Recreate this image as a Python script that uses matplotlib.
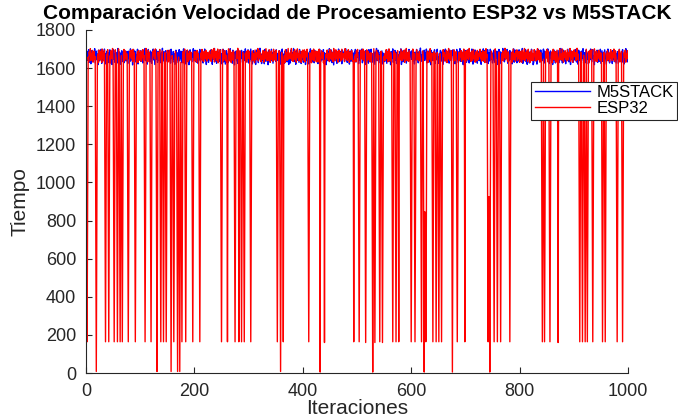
import numpy as np
import matplotlib
matplotlib.use("Agg")
import matplotlib.pyplot as plt

plt.rcParams.update({
    "font.family": ["Liberation Sans", "DejaVu Sans"],
    "axes.edgecolor": "#262626",
    "xtick.color": "#262626",
    "ytick.color": "#262626",
})

# Datos: tiempos por iteración
m5stack = [
    1662,1688,1641,1675,1697,1630,1659,1684,1623,1670,1692,1648,1636,1681,1665,1702,1627,1656,1689,1644,1673,1618,1694,1660,1638,
    1679,1651,1699,1625,1668,1686,1642,1657,1700,1633,1677,1621,1664,1690,1647,1683,1629,1671,1696,1653,1639,1687,1619,1666,1698,
    1645,1674,1631,1693,1658,1680,1626,1669,1703,1640,1655,1685,1620,1676,1649,1691,1634,1663,1682,1628,1695,1652,1672,1637,1687,
    1667,1624,1689,1650,1678,1635,1701,1661,1643,1684,1617,1673,1696,1646,1658,1688,1632,1670,1654,1699,1622,1681,1641,1665,1692,
    1636,1676,1657,1694,1627,1668,1685,1649,1703,1639,1662,1680,1621,1674,1698,1644,1659,1633,1690,1666,1625,1683,1652,1700,1643,
    1684,1619,1661,1697,1647,1672,1630,1688,1656,1641,1695,1664,1628,1679,1651,1704,1637,1669,1686,1623,1660,1691,1645,1675,1634,
    1671,1693,1640,1658,1682,1626,1699,1653,1667,1631,1687,1648,1676,1620,1662,1694,1642,1681,1655,1629,1673,1697,1638,1664,1689,
    1650,1628,1685,1666,1701,1644,1659,1677,1622,1692,1635,1670,1654,1688,1618,1663,1696,1646,1680,1632,1674,1657,1702,1639,1668,
    1694,1655,1633,1678,1660,1687,1624,1671,1649,1698,1637,1665,1683,1643,1690,1627,1675,1652,1700,1641,1662,1619,1684,1658,1677,
    1630,1681,1663,1642,1695,1654,1673,1620,1689,1647,1667,1703,1634,1658,1686,1625,1670,1692,1645,1679,1636,1661,1697,1651,1623,
    1676,1645,1699,1632,1665,1684,1621,1657,1692,1640,1673,1628,1688,1651,1669,1702,1635,1680,1659,1626,1694,1647,1664,1617,1685,
    1653,1690,1638,1672,1625,1697,1661,1644,1682,1630,1668,1693,1649,1675,1620,1687,1656,1639,1701,1663,1633,1679,1648,1696,1627,
    1689,1634,1666,1700,1643,1677,1622,1658,1691,1637,1683,1654,1619,1671,1695,1646,1662,1629,1686,1650,1704,1641,1674,1624,1667,
    1642,1681,1657,1623,1698,1660,1636,1685,1647,1670,1618,1693,1655,1678,1631,1664,1699,1639,1682,1626,1659,1688,1644,1672,1635,
    1696,1650,1677,1640,1664,1629,1691,1668,1621,1683,1652,1700,1638,1674,1657,1625,1687,1645,1669,1697,1633,1661,1680,1619,1654,
    1663,1627,1694,1656,1681,1643,1672,1703,1634,1649,1688,1620,1666,1692,1641,1679,1653,1630,1698,1658,1685,1624,1671,1647,1690,
    1631,1673,1648,1686,1619,1662,1695,1639,1676,1655,1622,1684,1667,1701,1645,1660,1632,1689,1651,1674,1628,1693,1642,1665,1682,
    1678,1658,1624,1690,1646,1699,1660,1635,1670,1687,1643,1656,1697,1626,1681,1649,1675,1618,1664,1692,1639,1684,1653,1702,1637,
    1648,1696,1666,1629,1684,1651,1617,1677,1693,1640,1663,1682,1625,1671,1655,1700,1634,1668,1688,1644,1659,1623,1695,1661,1679,
    1685,1637,1660,1702,1652,1674,1630,1691,1647,1665,1621,1689,1658,1636,1696,1662,1677,1643,1620,1683,1669,1698,1632,1656,1673,
    1657,1682,1623,1669,1694,1641,1678,1650,1700,1628,1663,1686,1645,1672,1619,1691,1654,1638,1680,1666,1626,1697,1648,1675,1633,
    1699,1644,1676,1631,1661,1688,1652,1620,1683,1667,1703,1639,1656,1694,1627,1671,1646,1685,1635,1660,1690,1622,1679,1651,1665,
    1634,1668,1691,1655,1625,1680,1643,1697,1662,1637,1674,1618,1687,1649,1666,1701,1630,1677,1658,1693,1642,1671,1624,1684,1653,
    1672,1629,1655,1686,1647,1701,1619,1664,1690,1633,1679,1657,1641,1695,1661,1626,1683,1650,1668,1636,1698,1645,1676,1660,1688,
    1646,1692,1637,1674,1659,1622,1684,1667,1642,1698,1653,1680,1628,1663,1689,1644,1705,1635,1670,1652,1687,1621,1666,1694,1640,
    1681,1654,1700,1627,1670,1645,1689,1632,1676,1661,1618,1693,1648,1682,1639,1667,1656,1696,1624,1678,1643,1663,1699,1630,1658,
    1625,1677,1649,1693,1636,1664,1685,1653,1620,1691,1672,1640,1700,1657,1631,1686,1662,1647,1679,1626,1695,1654,1669,1638,1683,
    1667,1696,1638,1659,1681,1623,1673,1650,1698,1644,1687,1629,1665,1654,1702,1635,1676,1690,1642,1661,1618,1684,1657,1693,1632,
    1690,1631,1671,1644,1697,1656,1627,1683,1662,1639,1675,1700,1646,1621,1686,1668,1651,1695,1634,1679,1659,1626,1688,1643,1670,
    1639,1684,1658,1620,1688,1673,1647,1701,1635,1666,1693,1651,1678,1630,1660,1697,1624,1682,1655,1637,1699,1667,1645,1680,1627,
    1674,1643,1695,1661,1628,1680,1652,1689,1619,1670,1646,1698,1636,1664,1685,1623,1677,1656,1703,1640,1668,1633,1691,1649,1683,
    1651,1698,1626,1667,1684,1638,1692,1660,1645,1676,1622,1687,1663,1701,1631,1658,1694,1642,1673,1628,1681,1654,1637,1696,1662,
    1688,1635,1679,1650,1703,1625,1664,1643,1682,1657,1697,1634,1671,1620,1690,1648,1666,1627,1685,1659,1640,1699,1653,1676,1618,
    1629,1665,1692,1640,1657,1686,1621,1674,1699,1647,1663,1682,1632,1695,1654,1678,1639,1661,1700,1626,1689,1644,1670,1658,1697,
    1666,1701,1647,1683,1624,1669,1690,1655,1637,1681,1619,1673,1696,1641,1660,1627,1687,1652,1675,1635,1693,1662,1629,1684,1648,
    1703,1640,1660,1627,1675,1693,1636,1662,1688,1623,1679,1650,1642,1699,1667,1633,1684,1656,1619,1691,1670,1645,1682,1631,1664,
    1643,1687,1653,1698,1632,1661,1678,1620,1694,1656,1639,1685,1671,1626,1690,1650,1702,1637,1665,1681,1628,1659,1696,1644,1676,
    1680,1622,1668,1689,1645,1700,1654,1633,1672,1697,1648,1664,1618,1686,1641,1675,1659,1694,1630,1669,1687,1636,1655,1699,1625,
    1655,1691,1636,1664,1683,1630,1696,1672,1644,1621,1686,1658,1700,1639,1676,1627,1663,1689,1651,1679,1624,1692,1647,1667,1634,
    1692,1659,1627,1678,1649,1687,1625,1665,1699,1638,1672,1654,1683,1631,1697,1643,1668,1622,1685,1660,1702,1646,1677,1633,1661,
]

esp32_base = [
    1671,1647,1699,1658,1634,1686,1665,1702,1640,1677,1653,1693,1631,1669,1688,1645,1660,1705,1637,1682,1656,1674,1629,1695,1662,
    1643,1689,1667,1630,1700,1652,1679,1638,1694,1661,1646,1684,1672,1633,1697,1656,1641,1687,1664,1628,1691,1675,1650,1703,1636,
    1683,1659,1632,1696,1670,1644,1688,1663,1635,1701,1654,1678,1640,1692,1666,1629,1685,1651,1673,1698,1639,1662,1690,1648,1676,
    1657,1702,1642,1674,1631,1689,1660,1695,1649,1668,1634,1699,1653,1680,1637,1671,1704,1645,1664,1686,1630,1693,1658,1677,1641,
    1690,1636,1681,1655,1697,1640,1667,1629,1686,1662,1703,1647,1675,1633,1694,1659,1682,1642,1670,1700,1651,1638,1687,1665,1696,
    1648,1675,1701,1639,1663,1692,1632,1684,1657,1645,1698,1669,1636,1679,1653,1690,1630,1666,1705,1644,1681,1656,1628,1673,1693,
    1676,1633,1660,1694,1650,1682,1641,1704,1666,1637,1673,1691,1654,1629,1688,1662,1646,1699,1635,1677,1658,1685,1643,1670,1631,
    1697,1661,1644,1686,1629,1671,1700,1652,1680,1640,1664,1695,1634,1676,1657,1689,1642,1668,1683,1631,1702,1649,1672,1638,1687,
    1639,1684,1666,1630,1693,1658,1676,1645,1701,1667,1636,1680,1655,1698,1642,1671,1633,1687,1660,1648,1694,1675,1637,1681,1652,
    1679,1652,1690,1643,1670,1635,1697,1661,1684,1647,1703,1632,1674,1656,1689,1640,1665,1700,1628,1678,1653,1696,1644,1668,1685,
    1660,1698,1637,1681,1654,1692,1641,1669,1632,1687,1663,1646,1701,1675,1638,1694,1657,1629,1683,1667,1642,1690,1672,1634,1699,
    1635,1666,1689,1651,1704,1644,1678,1659,1691,1630,1673,1697,1648,1684,1662,1636,1700,1655,1677,1641,1688,1631,1665,1693,1650,
    1686,1645,1672,1699,1633,1662,1690,1640,1676,1655,1628,1695,1669,1643,1681,1660,1703,1637,1674,1692,1652,1679,1634,1667,1646,
    1653,1693,1631,1665,1687,1648,1702,1670,1639,1684,1658,1641,1697,1663,1630,1677,1690,1645,1668,1636,1699,1661,1682,1642,1674,
    1694,1638,1677,1656,1630,1691,1664,1645,1700,1653,1682,1635,1670,1688,1649,1666,1629,1696,1659,1681,1640,1673,1703,1647,1663,
    1667,1682,1649,1703,1640,1672,1635,1686,1660,1697,1643,1679,1631,1665,1701,1654,1676,1638,1691,1652,1669,1630,1688,1657,1695,
    1641,1670,1696,1632,1685,1658,1676,1699,1647,1664,1690,1636,1681,1654,1672,1628,1693,1662,1645,1700,1637,1683,1666,1689,1633,
    1688,1655,1632,1674,1699,1646,1667,1637,1692,1671,1650,1684,1629,1702,1659,1679,1640,1673,1655,1695,1661,1642,1678,1634,1697,
    1650,1691,1668,1643,1680,1633,1703,1657,1675,1639,1696,1664,1648,1686,1631,1670,1694,1653,1682,1637,1668,1699,1645,1676,1660,
    1677,1634,1702,1660,1649,1688,1641,1673,1697,1655,1630,1685,1666,1644,1692,1672,1636,1680,1658,1704,1647,1671,1633,1690,1662,
    1698,1657,1640,1683,1669,1631,1694,1652,1678,1645,1700,1663,1637,1689,1656,1674,1629,1696,1665,1642,1687,1651,1675,1633,1680,
    1646,1679,1692,1635,1661,1702,1649,1684,1630,1671,1693,1655,1680,1641,1667,1699,1638,1662,1688,1653,1632,1677,1697,1659,1643,
    1675,1640,1664,1697,1651,1686,1633,1670,1701,1658,1637,1682,1666,1629,1695,1648,1673,1690,1644,1679,1659,1703,1636,1668,1691,
    1632,1688,1656,1674,1643,1699,1667,1638,1685,1661,1648,1694,1630,1677,1652,1703,1640,1665,1681,1635,1692,1670,1646,1684,1657,
    1683,1662,1700,1641,1678,1653,1691,1629,1668,1696,1644,1675,1660,1638,1687,1666,1650,1698,1634,1672,1690,1645,1663,1701,1637,
    1659,1695,1636,1671,1689,1630,1664,1684,1647,1702,1656,1633,1679,1693,1642,1661,1686,1639,1676,1657,1699,1631,1682,1651,1673,
    1701,1645,1676,1658,1632,1690,1670,1643,1697,1662,1681,1637,1667,1654,1694,1629,1685,1648,1703,1665,1641,1677,1658,1692,1635,
    1644,1680,1663,1696,1639,1673,1655,1687,1631,1666,1699,1650,1684,1640,1677,1660,1692,1636,1669,1682,1647,1700,1654,1671,1688,
    1687,1638,1694,1652,1676,1645,1703,1661,1680,1634,1672,1690,1641,1657,1698,1649,1664,1631,1685,1674,1637,1693,1662,1646,1679,
    1664,1699,1649,1682,1636,1668,1691,1640,1658,1686,1629,1677,1702,1655,1671,1643,1695,1660,1638,1680,1666,1632,1689,1673,1651,
    1637,1672,1688,1646,1701,1659,1633,1679,1666,1693,1642,1685,1654,1630,1697,1663,1675,1648,1690,1639,1681,1657,1704,1644,1669,
    1692,1654,1634,1685,1667,1641,1698,1672,1650,1683,1631,1664,1700,1645,1677,1658,1636,1689,1661,1696,1640,1674,1652,1687,1630,
    1666,1686,1657,1630,1694,1676,1645,1668,1703,1638,1680,1652,1690,1663,1635,1699,1648,1673,1629,1684,1660,1695,1639,1678,1655,
    1640,1697,1671,1662,1637,1688,1651,1702,1643,1675,1693,1632,1666,1681,1656,1639,1700,1670,1647,1691,1634,1667,1685,1653,1698,
    1681,1633,1689,1649,1673,1696,1638,1660,1684,1629,1670,1699,1655,1642,1687,1675,1631,1664,1694,1650,1678,1641,1668,1702,1645,
    1653,1675,1642,1700,1660,1631,1683,1657,1691,1646,1678,1637,1696,1669,1644,1682,1661,1703,1635,1672,1655,1688,1630,1665,1693,
    1696,1660,1681,1639,1666,1704,1647,1674,1632,1689,1658,1641,1684,1630,1677,1697,1652,1668,1643,1686,1671,1636,1699,1654,1678,
    1645,1688,1630,1671,1692,1653,1667,1698,1640,1662,1685,1649,1701,1673,1637,1659,1690,1634,1676,1661,1694,1648,1683,1639,1670,
    1678,1641,1695,1664,1650,1683,1629,1702,1656,1677,1638,1691,1660,1646,1680,1633,1669,1697,1652,1686,1640,1673,1658,1700,1636,
    1661,1690,1654,1636,1685,1668,1644,1679,1697,1632,1673,1651,1688,1642,1666,1703,1639,1682,1657,1695,1631,1676,1648,1691,1664,
]

# Caídas del ESP32: iteración, nivel intermedio y nivel mínimo
dip_iter = [2, 19, 36, 42, 52, 58, 63, 67, 78, 91, 109, 120, 131, 138, 143, 148, 157, 162,
            169, 173, 177, 184, 197, 210, 250, 261, 275, 282, 287, 292, 304, 353, 359, 364,
            411, 432, 440, 494, 504, 516, 529, 533, 542, 547, 566, 572, 577, 600, 607, 619,
            624, 627, 640, 646, 651, 656, 676, 685, 699, 742, 745, 753, 759, 765, 782, 842,
            846, 856, 871, 911, 916, 921, 925, 935, 953, 958, 980, 990]
dip_mid = [911, 846, 934, 891, 895, 891, 891, 900, 934, 891, 918, 900, 925, 925, 920, 910, 900, 918,
           846, 830, 900, 891, 925, 934, 934, 1640, 918, 1640, 905, 905, 905, 846, 846, 1640,
           911, 1640, 1640, 1640, 925, 911, 925, 925, 900, 905, 918, 918, 1640, 900, 895, 900,
           846, 830, 895, 895, 895, 895, 846, 895, 1640, 925, 925, 895, 930, 918, 911, 918,
           918, 918, 1640, 925, 918, 918, 925, 925, 918, 918, 925, 925]
dip_low = [164, 8, 164, 164, 164, 164, 164, 164, 164, 164, 164, 164, 8, 164, 164, 164, 8, 164,
           8, 8, 164, 164, 164, 164, 164, 164, 164, 164, 164, 164, 164, 164, 8, 164,
           164, 5, 160, 164, 164, 160, 5, 160, 164, 160, 164, 164, 164, 164, 164, 164,
           5, 164, 164, 164, 164, 164, 5, 164, 164, 164, 5, 164, 164, 164, 164, 164,
           164, 164, 160, 164, 164, 164, 164, 164, 164, 164, 164, 164]

iteraciones = np.arange(1, len(m5stack) + 1)
esp32 = np.array(esp32_base, dtype=float)
for it, mid, low in zip(dip_iter, dip_mid, dip_low):
    esp32[it - 2] = mid
    esp32[it - 1] = low
    if it < len(esp32):
        esp32[it] = mid

# Gráfico
fig = plt.figure(figsize=(6.78, 4.19), dpi=100)
ax = fig.add_axes([86 / 678, 1 - 373 / 419, 542 / 678, 343 / 419])

ax.plot(iteraciones, m5stack, color="#0000ff", linewidth=1.0, label="M5STACK")
ax.plot(iteraciones, esp32, color="#ff0000", linewidth=1.0, label="ESP32")

ax.set_xlim(0, 1000)
ax.set_ylim(0, 1800)
ax.set_xticks(np.arange(0, 1001, 200))
ax.set_yticks(np.arange(0, 1801, 200))
ax.tick_params(direction="in", length=4, width=0.8, labelsize=13, pad=7)
for side in ["top", "right"]:
    ax.spines[side].set_visible(False)
for side in ["left", "bottom"]:
    ax.spines[side].set_linewidth(0.8)

ax.set_title("Comparación Velocidad de Procesamiento ESP32 vs M5STACK",
             fontsize=15, fontweight="bold", pad=8)
ax.set_xlabel("Iteraciones", fontsize=15, color="#262626")
ax.set_ylabel("Tiempo", fontsize=15, color="#262626")
ax.xaxis.set_label_coords(0.5, -0.075)
ax.yaxis.set_label_coords(-0.105, 0.5)

leg = ax.legend(loc="upper right", bbox_to_anchor=(677 / 678, 1 - 82 / 419),
                bbox_transform=fig.transFigure, borderaxespad=0, fontsize=12,
                fancybox=False, framealpha=1, edgecolor="#262626",
                handlelength=3.3, handletextpad=0.4, borderpad=0.2, labelspacing=0.05)
leg.get_frame().set_linewidth(0.8)

fig.savefig("out.png", dpi=100)
